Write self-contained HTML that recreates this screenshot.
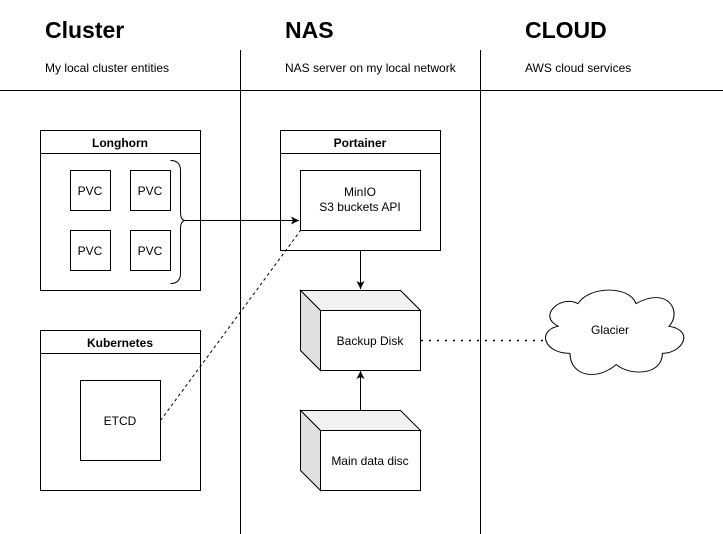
<!DOCTYPE html>
<html><head><meta charset="utf-8"><style>
html,body{margin:0;padding:0;background:#fff;}
svg{display:block;font-family:"Liberation Sans",Helvetica,Arial,sans-serif;}
</style></head><body>
<svg width="723" height="534" viewBox="0 0 723 534" xmlns="http://www.w3.org/2000/svg">
<defs>
<marker id="a" markerWidth="10" markerHeight="10" refX="9" refY="5" orient="auto" markerUnits="userSpaceOnUse">
<path d="M1,1 L9,5 L1,9 L3,5 Z" fill="#000"/></marker>
</defs>
<g font-weight="bold" font-size="23" fill="#000">
<text x="45" y="38">Cluster</text>
<text x="285" y="38">NAS</text>
<text x="525" y="38">CLOUD</text>
</g>
<g font-size="12" fill="#000">
<text x="45" y="72">My local cluster entities</text>
<text x="285" y="72">NAS server on my local network</text>
<text x="525" y="72">AWS cloud services</text>
</g>
<g stroke="#000" stroke-width="1" fill="none">
<line x1="0" y1="90.5" x2="723" y2="90.5"/>
<line x1="240.5" y1="50" x2="240.5" y2="534"/>
<line x1="480.5" y1="50" x2="480.5" y2="534"/>
<rect x="40.5" y="130.5" width="160" height="160" fill="#fff"/>
<line x1="40.5" y1="153.5" x2="200.5" y2="153.5"/>
<rect x="70.5" y="170.5" width="40" height="40"/>
<rect x="130.5" y="170.5" width="40" height="40"/>
<rect x="70.5" y="230.5" width="40" height="40"/>
<rect x="130.5" y="230.5" width="40" height="40"/>
<path d="M170.5,160.5 Q180.5,160.5 180.5,170.5 L180.5,212 Q180.5,220.5 185.5,220.5 Q180.5,220.5 180.5,229 L180.5,273 Q180.5,283.5 170.5,283.5"/>
<rect x="40.5" y="330.5" width="160" height="160"/>
<line x1="40.5" y1="353.5" x2="200.5" y2="353.5"/>
<rect x="80.5" y="380.5" width="80" height="80"/>
<rect x="280.5" y="130.5" width="160" height="120"/>
<line x1="280.5" y1="153.5" x2="440.5" y2="153.5"/>
<rect x="300.5" y="170.5" width="120" height="60"/>
<line x1="185.5" y1="220.5" x2="299" y2="220.5" marker-end="url(#a)"/>
<line x1="360.5" y1="250.5" x2="360.5" y2="289" marker-end="url(#a)"/>
<line x1="360.5" y1="410.5" x2="360.5" y2="371" marker-end="url(#a)"/>
<line x1="160.5" y1="420.5" x2="300.5" y2="230.5" stroke-dasharray="3,3"/>
<line x1="421" y1="340.5" x2="553" y2="340.5" stroke-dasharray="2,6" stroke-width="1.5"/>
<g>
<path d="M300.5,290.5 L400.5,290.5 L420.5,310.5 L420.5,370.5 L320.5,370.5 L300.5,350.5 Z" fill="#fff"/>
<path d="M300.5,290.5 L400.5,290.5 L420.5,310.5 L320.5,310.5 Z" fill="#f1f1f1"/>
<path d="M300.5,290.5 L320.5,310.5 L320.5,370.5 L300.5,350.5 Z" fill="#e0e0e0"/>
<rect x="320.5" y="310.5" width="100" height="60" fill="#fff"/>
</g>
<g>
<path d="M300.5,410.5 L400.5,410.5 L420.5,430.5 L320.5,430.5 Z" fill="#f1f1f1"/>
<path d="M300.5,410.5 L320.5,430.5 L320.5,490.5 L300.5,470.5 Z" fill="#e0e0e0"/>
<rect x="320.5" y="430.5" width="100" height="60" fill="#fff"/>
</g>
<path transform="translate(537,285.5) scale(1.32,1.13)" d="M25 60 C5 60 0 40 16 36 C0 27 18 8 31 16 C40 0 70 0 75 16 C100 0 110 24 100 36 C120 40 110 60 95 60 C95 80 70 80 60 70 C45 85 25 80 25 60 Z" fill="#fff" stroke-width="0.8"/>
</g>
<g font-size="12" fill="#000" text-anchor="middle">
<text x="120" y="147" font-weight="bold">Longhorn</text>
<text x="120" y="347" font-weight="bold">Kubernetes</text>
<text x="360" y="147" font-weight="bold">Portainer</text>
<text x="90" y="195">PVC</text>
<text x="150" y="195">PVC</text>
<text x="90" y="255">PVC</text>
<text x="150" y="255">PVC</text>
<text x="120" y="425">ETCD</text>
<text x="360" y="196">MinIO</text>
<text x="360" y="211">S3 buckets API</text>
<text x="370" y="345">Backup Disk</text>
<text x="370" y="465">Main data disc</text>
<text x="610" y="334">Glacier</text>
</g>
</svg>
</body></html>
